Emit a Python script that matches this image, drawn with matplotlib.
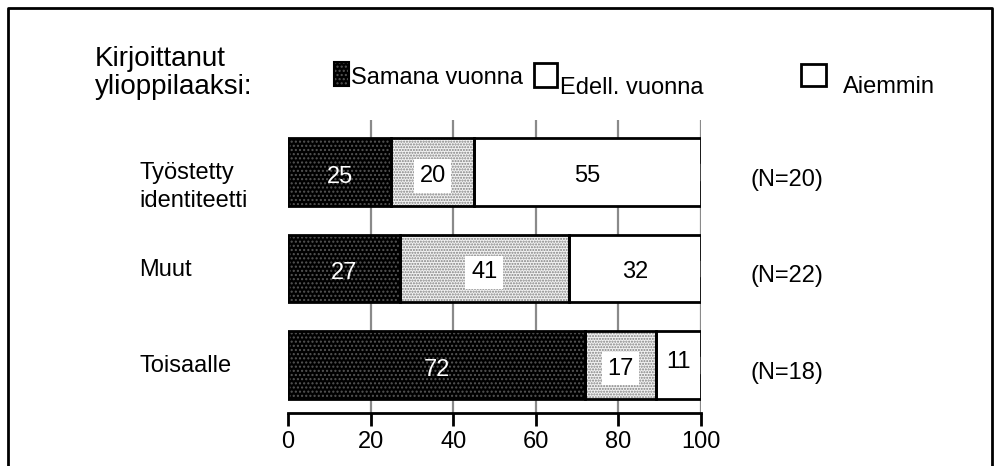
import matplotlib.pyplot as plt
from matplotlib.patches import Rectangle
from matplotlib.lines import Line2D

plt.rcParams['font.family'] = ['Liberation Sans', 'DejaVu Sans']
plt.rcParams['hatch.linewidth'] = 1.0

categories = ["Työstetty\nidentiteetti", "Muut", "Toisaalle"]
same_year = [25, 27, 72]
prev_year = [20, 41, 17]
earlier = [55, 32, 11]
n_labels = ["(N=20)", "(N=22)", "(N=18)"]
legend_labels = ["Samana vuonna", "Edell. vuonna", "Aiemmin"]
legend_title = "Kirjoittanut\nylioppilaaksi:"
xticks = [0, 20, 40, 60, 80, 100]

W, H = 998, 466
fig = plt.figure(figsize=(W / 100, H / 100), dpi=100)


def fx(px):
    return px / W


def fy(py):
    return 1 - py / H


ax = fig.add_axes([fx(288), fy(413), fx(701) - fx(288), fy(120) - fy(413)])
ax.set_xlim(0, 100)
ax.set_ylim(2.5, -0.54)

# grid lines
for g in xticks[1:]:
    ax.axvline(g, color='#8a8a8a', lw=1.6, zorder=0)

rows = range(len(categories))
h = 0.70
lefts2 = [a for a in same_year]
lefts3 = [a + b for a, b in zip(same_year, prev_year)]

# fills with hatches
ax.barh(rows, same_year, height=h, color='black', edgecolor='#555555',
        hatch='....', lw=0, zorder=2)
ax.barh(rows, prev_year, left=lefts2, height=h, color='#f2f2f2',
        edgecolor='#808080', hatch='......', lw=0, zorder=2)
ax.barh(rows, earlier, left=lefts3, height=h, color='white', lw=0, zorder=2)
# outlines
for vals, lefts in [(same_year, [0] * 3), (prev_year, lefts2), (earlier, lefts3)]:
    ax.barh(rows, vals, left=lefts, height=h, fill=False, edgecolor='black',
            lw=2, zorder=3)

for i in rows:
    ax.plot([100, 100], [i - 0.08, i + 0.08], color='white', lw=1, zorder=4,
            clip_on=False)
    ax.text(same_year[i] / 2, i + 0.05, str(same_year[i]), color='white',
            ha='center', va='center', fontsize=17, zorder=4)
    ax.text(lefts2[i] + prev_year[i] / 2, i + 0.04, str(prev_year[i]),
            color='black', ha='center', va='center', fontsize=17, zorder=4,
            bbox=dict(facecolor='white', edgecolor='none', pad=4))
    ax.text(lefts3[i] + earlier[i] / 2, i + 0.04 if earlier[i] > 20 else i - 0.03,
            str(earlier[i]), color='black', ha='center', va='center',
            fontsize=17, zorder=4)
    ax.text(-36, i - 0.10, categories[i], ha='left', va='top', fontsize=17,
            linespacing=1.3)
    ax.text(112, i + 0.08, n_labels[i], ha='left', va='center', fontsize=17)

for s in ['left', 'right', 'top']:
    ax.spines[s].set_visible(False)
ax.spines['bottom'].set_linewidth(2)
ax.set_yticks([])
ax.set_xticks(xticks)
ax.tick_params(axis='x', direction='out', length=9, width=2, labelsize=17, pad=4)

# legend
fig.text(fx(95), fy(73), legend_title, ha='left', va='center', fontsize=20,
         linespacing=1.15)
fig.patches.append(Rectangle((fx(334), fy(86)), fx(15), fy(62) - fy(86),
                             transform=fig.transFigure, facecolor='black',
                             edgecolor='#555555', hatch='....', lw=0))
fig.patches.append(Rectangle((fx(334), fy(86)), fx(15), fy(62) - fy(86),
                             transform=fig.transFigure, fill=False,
                             edgecolor='black', lw=1.5))
fig.text(fx(351), fy(78), legend_labels[0], ha='left', va='center', fontsize=17)
fig.patches.append(Rectangle((fx(534), fy(87)), fx(23), fy(63) - fy(87),
                             transform=fig.transFigure, facecolor='white',
                             edgecolor='black', lw=2))
fig.text(fx(560), fy(88), legend_labels[1], ha='left', va='center', fontsize=17)
fig.patches.append(Rectangle((fx(801), fy(86)), fx(25), fy(64) - fy(86),
                             transform=fig.transFigure, facecolor='white',
                             edgecolor='black', lw=2))
fig.text(fx(843), fy(87), legend_labels[2], ha='left', va='center', fontsize=17)

# frame
fig.lines.append(Line2D([fx(8), fx(8), fx(992), fx(992)],
                        [0, fy(8), fy(8), 0], transform=fig.transFigure,
                        color='black', lw=2))

fig.savefig('out.png', dpi=100)
